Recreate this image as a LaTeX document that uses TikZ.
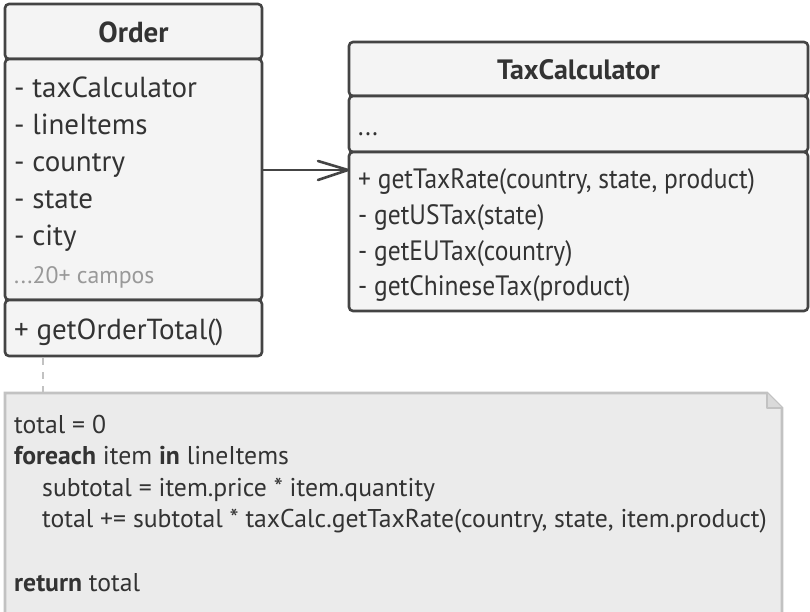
\documentclass[tikz,border=0pt]{standalone}
\usepackage{fontspec}
\setmainfont{PT Sans}
\newfontfamily\condfont[FakeStretch=0.91]{PT Sans}
\definecolor{umlstroke}{HTML}{444444}
\definecolor{umltxt}{HTML}{333333}
\definecolor{boxfill}{HTML}{F4F4F4}
\definecolor{notefill}{HTML}{EBEBEB}
\definecolor{noteline}{HTML}{C2C2C2}
\definecolor{dimtxt}{HTML}{999999}
\begin{document}
\begin{tikzpicture}[x=1pt,y=-1pt,
  sect/.style={draw=umlstroke,fill=boxfill,line width=2.6pt,rounded corners=4pt},
  ctext/.style={anchor=base west,inner sep=0pt,text=umltxt,font=\fontsize{29}{33}\selectfont},
  mtext/.style={anchor=base west,inner sep=0pt,text=umltxt,font=\condfont\fontsize{28}{32}\selectfont},
  ttext/.style={anchor=base,inner sep=0pt,text=umltxt,font=\fontsize{28}{32}\selectfont\bfseries},
  ntext/.style={anchor=base west,inner sep=0pt,text=umltxt,font=\fontsize{25.7}{29}\selectfont}]
\useasboundingbox (0,0) rectangle (810,612);
% note
\fill[notefill] (5,393) -- (767,393) -- (782,408) -- (782,614) -- (5,614) -- cycle;
\draw[draw=noteline,line width=2.6pt] (5,614) -- (5,393) -- (767,393) -- (782,408) -- (782,614);
\draw[draw=noteline,line width=2pt,fill=noteline!60!white,line join=round] (767,393) -- (767,408) -- (782,408);
% Order
\draw[sect] (5,4) rectangle (262,59);
\draw[sect] (5,59) rectangle (262,300);
\draw[sect] (5,300) rectangle (262,356);
\node[ttext,font=\fontsize{29}{33}\selectfont\bfseries] (ordt) at (133.5,43) {Order};
\node[ctext] (o1) at (14,98) {- taxCalculator};
\node[ctext] (o2) at (14,135) {- lineItems};
\node[ctext] (o3) at (14,172) {- country};
\node[ctext] (o4) at (14,208) {- state};
\node[ctext] (o5) at (14,245) {- city};
\node[ctext,text=dimtxt,font=\fontsize{23.8}{27}\selectfont] (o6) at (14,283) {...20+ campos};
\node[ctext] (o7) at (14,339) {+ getOrderTotal()};
% TaxCalculator
\draw[sect] (349,42) rectangle (808,96);
\draw[sect] (349,96) rectangle (808,152);
\draw[sect] (349,152) rectangle (808,311);
\node[ttext] (tct) at (578.5,80) {TaxCalculator};
\node[mtext] (t0) at (358,136) {...};
\node[mtext] (t1) at (358,189) {+ getTaxRate(country, state, product)};
\node[mtext] (t2) at (358,225) {- getUSTax(state)};
\node[mtext] (t3) at (358,260) {- getEUTax(country)};
\node[mtext] (t4) at (358,295) {- getChineseTax(product)};
% arrow
\coordinate (as) at (263,170);
\coordinate (ae) at (348,170);
\draw[draw=umlstroke,line width=2.6pt] (as) -- (ae);
\draw[draw=umlstroke,line width=2.6pt,line cap=round,line join=round] (318,161) -- (ae) -- (318,180);
% dashed link
\coordinate (d1) at (43,358);
\coordinate (d2) at (43,392);
\draw[draw=noteline,line width=2.6pt,dash pattern=on 7pt off 7pt] (d1) -- (d2);
% note text
\node[ntext] (n1) at (14,433) {total = 0};
\node[ntext] (n2) at (14,464) {\textbf{foreach} item \textbf{in} lineItems};
\node[ntext] (n3) at (42,496) {subtotal = item.price * item.quantity};
\node[ntext] (n4) at (42,527) {total += subtotal * taxCalc.getTaxRate(country, state, item.product)};
\node[ntext] (n5) at (14,591) {\textbf{return} total};
\end{tikzpicture}
\end{document}
